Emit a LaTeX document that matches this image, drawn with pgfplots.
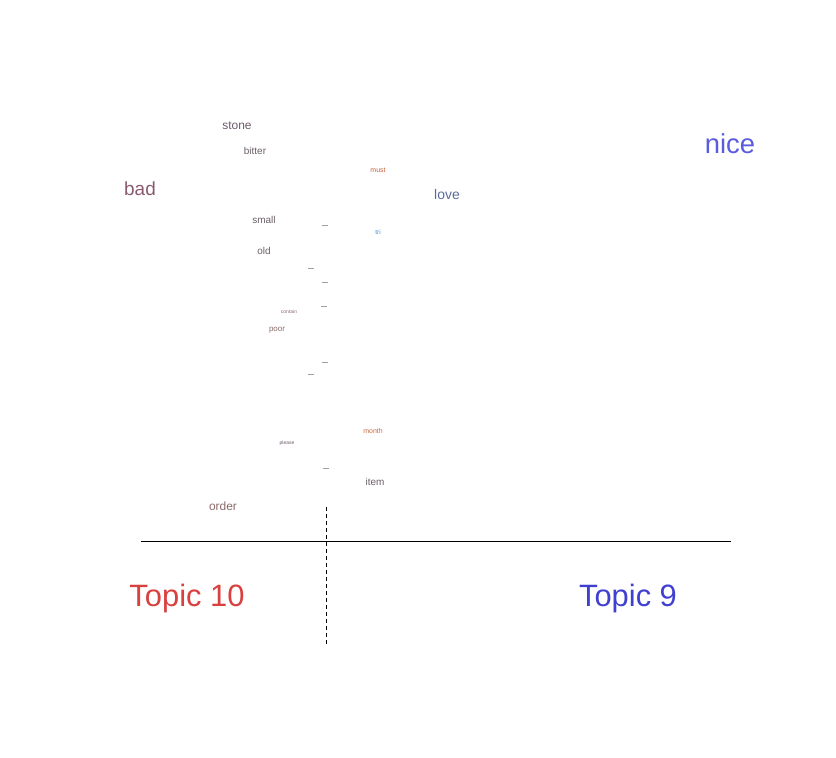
\documentclass[border=0pt]{standalone}
\usepackage{pgfplots}
\pgfplotsset{compat=1.18}
\usepackage{fontspec}
\setmainfont{Liberation Sans}
\definecolor{cstone}{HTML}{6B5A6B}
\definecolor{cbad}{HTML}{8A5A70}
\definecolor{cnice}{HTML}{5B5BE0}
\definecolor{clove}{HTML}{5A6A9A}
\definecolor{cmust}{HTML}{C8603C}
\definecolor{ctri}{HTML}{4A8AD0}
\definecolor{cgrey}{HTML}{6A5E66}
\definecolor{cdash}{HTML}{A89CA4}
\definecolor{cpoor}{HTML}{8A6A6A}
\definecolor{cmonth}{HTML}{C86A40}
\definecolor{cten}{HTML}{D94040}
\definecolor{cnine}{HTML}{4040D0}
\newcommand\dsh{\rule{6bp}{0.8bp}}
\newcommand\word[5]{%
  \addplot[draw=none, mark=none, nodes near coords, point meta=explicit symbolic,
    nodes near coords align={center},
    every node near coord/.append style={anchor=center, inner sep=0pt, text=#5, font=\fontsize{#4}{#4}\selectfont}]
    coordinates {(#1,#2)[#3]};}
\begin{document}
\begin{tikzpicture}
\begin{axis}[width=836bp, height=758bp, scale only axis,
  xmin=0, xmax=836, ymin=0, ymax=758, hide axis, clip=false]
\path (rel axis cs:0,0) rectangle (rel axis cs:1,1);
\addplot[black, line width=0.8pt] coordinates {(141,217) (731,217)};
\addplot[black, line width=0.9pt, dash pattern=on 4bp off 3bp] coordinates {(326,251) (326,113)};
\word{237}{632}{stone}{12}{cstone}
\word{255}{607}{bitter}{10}{cgrey}
\word{378}{588}{must}{7}{cmust}
\word{140}{569}{bad}{19}{cbad}
\word{447}{563}{love}{14}{clove}
\word{730}{614}{nice}{27.5}{cnice}
\word{264}{538}{small}{10}{cgrey}
\word{325}{533}{\dsh}{4}{cdash}
\word{378}{526}{tri}{6.5}{ctri}
\word{264}{507}{old}{10}{cgrey}
\word{311}{490}{\dsh}{4}{cdash}
\word{325}{476}{\dsh}{4}{cdash}
\word{324}{452}{\dsh}{4}{cdash}
\word{289}{446}{contain}{5}{cpoor}
\word{277}{428}{poor}{8}{cpoor}
\word{325}{396}{\dsh}{4}{cdash}
\word{311}{384}{\dsh}{4}{cdash}
\word{373}{327}{month}{7}{cmonth}
\word{287}{315}{please}{5}{cstone}
\word{326}{290}{\dsh}{4}{cdash}
\word{375}{276}{item}{10}{cgrey}
\word{223}{252}{order}{12}{cpoor}
\word{187}{159}{Topic 10}{31}{cten}
\word{628}{159}{Topic 9}{31}{cnine}
\end{axis}
\end{tikzpicture}
\end{document}
